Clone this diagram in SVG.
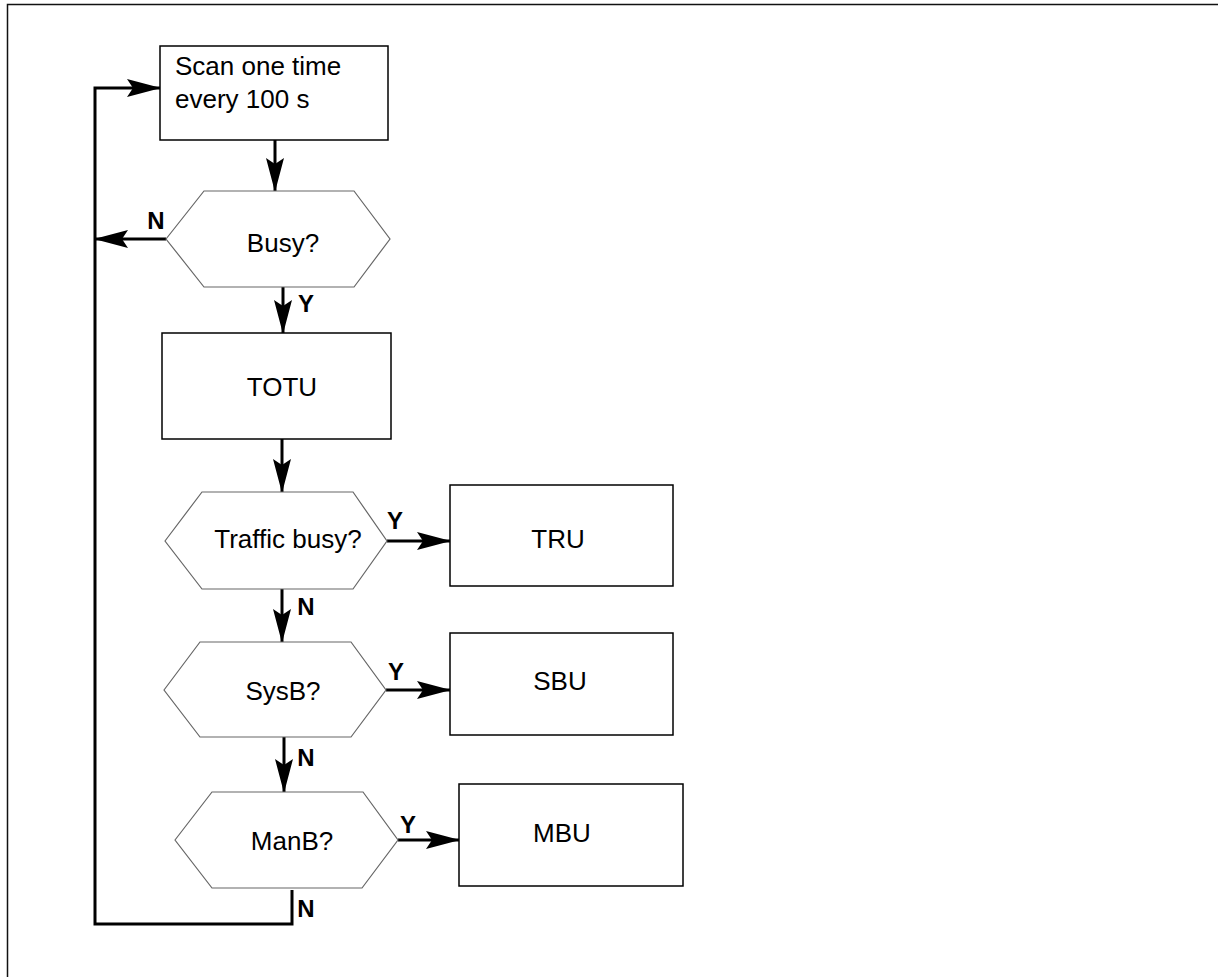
<svg xmlns="http://www.w3.org/2000/svg" width="1218" height="977" viewBox="0 0 1218 977">
<style>
  .box { fill: #ffffff; stroke: #000000; stroke-width: 1.5; }
  .hex { fill: #ffffff; stroke: #666666; stroke-width: 1.2; }
  .t { font-family: "Liberation Sans", Arial, sans-serif; font-size: 26px; fill: #000000; }
  .c { text-anchor: middle; }
  .lbl { font-family: "Liberation Sans", Arial, sans-serif; font-size: 24px; font-weight: bold; fill: #000000; text-anchor: middle; }
  .conn { fill: none; stroke: #000000; stroke-width: 3; stroke-linejoin: miter; stroke-linecap: butt; }
  .frame { fill: none; stroke: #111111; stroke-width: 1.5; }
</style>
<defs>
  <marker id="arr" viewBox="0 0 34 18" refX="33" refY="9" markerWidth="34" markerHeight="18" markerUnits="userSpaceOnUse" orient="auto">
    <path d="M0,0 L34,9 L0,18 L6,9 Z" fill="#000000"/>
  </marker>
</defs>
<rect width="1218" height="977" fill="#ffffff"/>
<path class="frame" d="M7.5,977 V4.5 H1218"/>

<g id="connectors">
  <path class="conn" d="M275,140 V191" marker-end="url(#arr)"/>
  <path class="conn" d="M166,239 H95" marker-end="url(#arr)"/>
  <path class="conn" d="M283,287 V333" marker-end="url(#arr)"/>
  <path class="conn" d="M282,439 V492" marker-end="url(#arr)"/>
  <path class="conn" d="M387,541 H450" marker-end="url(#arr)"/>
  <path class="conn" d="M282,589 V642" marker-end="url(#arr)"/>
  <path class="conn" d="M386,690 H450" marker-end="url(#arr)"/>
  <path class="conn" d="M284,737 V792" marker-end="url(#arr)"/>
  <path class="conn" d="M398,840 H459" marker-end="url(#arr)"/>
  <path class="conn" d="M292,890 V924 H95 V88 H160" marker-end="url(#arr)"/>
  <text class="lbl" x="156" y="229">N</text>
  <text class="lbl" x="306" y="312">Y</text>
  <text class="lbl" x="395" y="529">Y</text>
  <text class="lbl" x="306" y="615">N</text>
  <text class="lbl" x="396" y="680">Y</text>
  <text class="lbl" x="306" y="766">N</text>
  <text class="lbl" x="408" y="833">Y</text>
  <text class="lbl" x="306" y="917">N</text>
</g>

<g id="scan">
  <rect class="box" x="160" y="46" width="228" height="94"/>
  <text class="t" x="175" y="75">Scan one time</text>
  <text class="t" x="175" y="108">every 100 s</text>
</g>
<g id="busy">
  <polygon class="hex" points="166,239 204,191 354,191 390,239 354,287 204,287"/>
  <text class="t c" x="283" y="252">Busy?</text>
</g>
<g id="totu">
  <rect class="box" x="162" y="333" width="229" height="106"/>
  <text class="t c" x="282" y="396">TOTU</text>
</g>
<g id="traffic">
  <polygon class="hex" points="165,541 202,492 353,492 387,541 353,589 202,589"/>
  <text class="t c" x="288" y="548">Traffic busy?</text>
</g>
<g id="tru">
  <rect class="box" x="450" y="485" width="223" height="101"/>
  <text class="t c" x="558" y="548">TRU</text>
</g>
<g id="sysb">
  <polygon class="hex" points="164,690 200,642 351,642 386,690 351,737 200,737"/>
  <text class="t c" x="283" y="700">SysB?</text>
</g>
<g id="sbu">
  <rect class="box" x="450" y="633" width="223" height="102"/>
  <text class="t c" x="560" y="690">SBU</text>
</g>
<g id="manb">
  <polygon class="hex" points="175,840 212,792 363,792 398,840 362,888 212,888"/>
  <text class="t c" x="292" y="850">ManB?</text>
</g>
<g id="mbu">
  <rect class="box" x="459" y="784" width="224" height="102"/>
  <text class="t c" x="562" y="842">MBU</text>
</g>
</svg>
